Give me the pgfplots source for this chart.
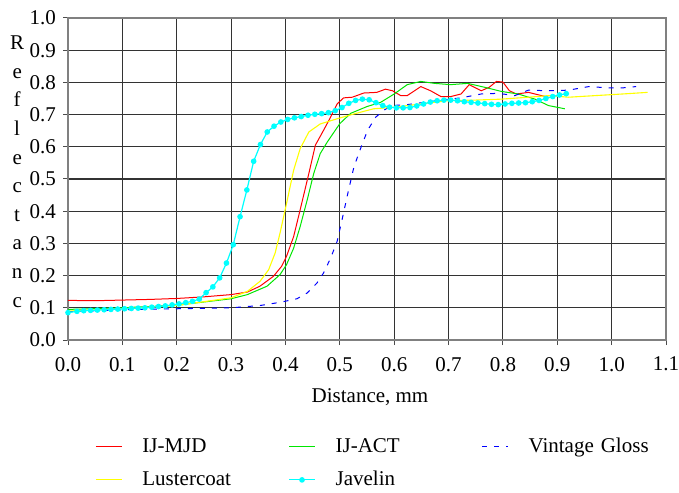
\documentclass[border=0pt]{standalone}
\usepackage{fontspec}
\setmainfont{LiberationSerif}[Extension=.ttf, UprightFont=*-Regular, BoldFont=*-Bold, ItalicFont=*-Italic, BoldItalicFont=*-BoldItalic]
\usepackage{pgfplots}
\pgfplotsset{compat=1.18}
\definecolor{cMJD}{RGB}{255,0,0}
\definecolor{cACT}{RGB}{0,230,0}
\definecolor{cVG}{RGB}{0,0,255}
\definecolor{cLC}{RGB}{255,255,0}
\definecolor{cJV}{RGB}{0,255,255}
\begin{document}
\begin{tikzpicture}
\begin{axis}[
  at={(0,0)}, anchor=south west,
  scale only axis, width=299pt, height=161pt,
  xmin=0, xmax=1.1, ymin=0, ymax=1.0,
  clip=false,
  xtick={0,0.1,...,1.1}, ytick={0,0.1,...,1.0},
  /pgf/number format/assume math mode=true,
  ticklabel style={font=\fontsize{10.5}{12}\selectfont},
  xticklabel style={/tikz/yshift=-2.5pt, /pgf/number format/.cd, fixed, fixed zerofill, precision=1},
  yticklabel style={/pgf/number format/.cd, fixed, fixed zerofill, precision=1},
  tick align=outside, major tick length=2.5pt,
  tick style={black!70, line width=0.5pt},
  xtick pos=bottom, ytick pos=left,
  grid=major,
  grid style={black!80, line width=0.55pt},
  axis line style={gray, line width=0.7pt},
  xlabel={Distance, mm},
  xlabel style={font=\fontsize{10.5}{12}\selectfont, at={(axis description cs:0.505,-0.177)}, anchor=center},
  legend columns=3,
  legend cell align=left,
  legend style={draw=none, fill=none, at={(axis description cs:0.045,-0.295)}, anchor=north west,
    font=\fontsize{10.5}{12}\selectfont, inner sep=0pt, row sep=5pt,
    nodes={inner sep=1pt, text height=7.5pt, text depth=2pt},
    /tikz/every odd column/.append style={column sep=9pt},
    /tikz/every even column/.append style={column sep=0pt, text width=72pt},
    legend image code/.code={\draw[mark repeat=2,mark phase=2,#1] plot coordinates {(0pt,0pt) (6.5pt,0pt) (13pt,0pt)};}},
]
% IJ-MJD
\addplot[cMJD, line width=0.5pt] coordinates {
(0,0.123) (0.05,0.122) (0.1,0.124) (0.15,0.126) (0.2,0.129) (0.25,0.134) (0.3,0.141)
(0.33,0.149) (0.353,0.167) (0.378,0.198) (0.393,0.229) (0.402,0.26) (0.415,0.321)
(0.427,0.404) (0.443,0.517) (0.455,0.605) (0.47,0.651) (0.483,0.692) (0.495,0.733)
(0.507,0.752) (0.523,0.754) (0.544,0.767) (0.568,0.769) (0.584,0.779) (0.597,0.774)
(0.612,0.759) (0.624,0.759) (0.649,0.787) (0.667,0.774) (0.686,0.756) (0.704,0.756)
(0.723,0.764) (0.738,0.793) (0.76,0.774) (0.775,0.785) (0.788,0.803) (0.8,0.801)
(0.812,0.774) (0.825,0.764) (0.847,0.769) (0.871,0.759) (0.884,0.754)
};
\addlegendentry{IJ-MJD}
% IJ-ACT
\addplot[cACT, line width=0.5pt] coordinates {
(0,0.095) (0.1,0.1) (0.2,0.108) (0.3,0.128) (0.33,0.141) (0.366,0.167) (0.39,0.203)
(0.402,0.234) (0.415,0.285) (0.427,0.352) (0.44,0.435) (0.452,0.517) (0.464,0.579)
(0.477,0.615) (0.5,0.672) (0.52,0.704) (0.55,0.725) (0.575,0.738) (0.6,0.764)
(0.624,0.793) (0.649,0.803) (0.674,0.797) (0.704,0.793) (0.735,0.797) (0.766,0.785)
(0.797,0.772) (0.828,0.764) (0.859,0.748) (0.884,0.728) (0.914,0.718)
};
\addlegendentry{IJ-ACT}
% Vintage Gloss
\addplot[cVG, line width=0.5pt, dash pattern=on 2.5pt off 3.5pt] coordinates {
(0,0.088) (0.1,0.094) (0.2,0.097) (0.3,0.1) (0.353,0.107) (0.39,0.117) (0.421,0.128)
(0.44,0.146) (0.458,0.177) (0.47,0.208) (0.483,0.254) (0.495,0.306) (0.504,0.373)
(0.514,0.45) (0.526,0.538) (0.538,0.594) (0.551,0.651) (0.566,0.692) (0.58,0.712)
(0.594,0.728) (0.624,0.731) (0.655,0.738) (0.686,0.745) (0.723,0.752) (0.76,0.764)
(0.791,0.766) (0.822,0.759) (0.847,0.776) (0.884,0.774) (0.921,0.776) (0.958,0.787)
(0.995,0.783) (1.02,0.783) (1.045,0.787)
};
\addlegendentry{Vintage Gloss}
% Lustercoat
\addplot[cLC, line width=0.55pt] coordinates {
(0,0.09) (0.1,0.097) (0.2,0.107) (0.3,0.131) (0.33,0.151) (0.353,0.182) (0.369,0.218)
(0.381,0.27) (0.39,0.332) (0.402,0.424) (0.415,0.527) (0.427,0.594) (0.443,0.646)
(0.464,0.671) (0.495,0.687) (0.526,0.702) (0.562,0.718) (0.6,0.723) (0.649,0.733)
(0.698,0.743) (0.748,0.745) (0.797,0.748) (0.847,0.754) (0.884,0.759) (0.921,0.754)
(0.97,0.759) (1.02,0.764) (1.066,0.769)
};
\addlegendentry{Lustercoat}
% Javelin
\addplot[cJV, line width=0.6pt, mark=*, mark size=1.1pt] coordinates {
(0,0.085) (0.0165,0.089) (0.029,0.091) (0.0415,0.092) (0.054,0.093) (0.0665,0.094)
(0.079,0.095) (0.0915,0.096) (0.104,0.097) (0.1165,0.098) (0.129,0.099) (0.1415,0.100)
(0.154,0.102) (0.1665,0.104) (0.179,0.106) (0.1915,0.109) (0.204,0.112) (0.2165,0.116)
(0.229,0.120) (0.2415,0.127) (0.254,0.147) (0.2665,0.165) (0.279,0.193) (0.2915,0.239)
(0.304,0.296) (0.3165,0.383) (0.329,0.466) (0.3415,0.555) (0.354,0.607) (0.3665,0.646)
(0.379,0.664) (0.3915,0.677) (0.404,0.685) (0.4165,0.690) (0.429,0.694) (0.4415,0.698)
(0.454,0.701) (0.4665,0.703) (0.479,0.706) (0.4915,0.712) (0.504,0.722) (0.5165,0.735)
(0.529,0.744) (0.5415,0.748) (0.554,0.746) (0.5665,0.737) (0.579,0.728) (0.5915,0.723)
(0.604,0.721) (0.6165,0.721) (0.629,0.722) (0.6415,0.727) (0.654,0.733) (0.6665,0.739)
(0.679,0.743) (0.6915,0.745) (0.704,0.745) (0.7165,0.743) (0.729,0.740) (0.7415,0.738)
(0.754,0.736) (0.7665,0.734) (0.779,0.732) (0.7915,0.731) (0.804,0.733) (0.8165,0.735)
(0.829,0.736) (0.8415,0.737) (0.854,0.740) (0.8665,0.744) (0.879,0.750) (0.8915,0.756)
(0.904,0.761) (0.9165,0.765)
};
\addlegendentry{Javelin}
\node[align=center, inner sep=0pt, font=\fontsize{10.5}{14.3}\selectfont] at (axis description cs:-0.085,0.523)
  {R\\e\\f\\l\\e\\c\\t\\a\\n\\c};
\end{axis}
\pgfresetboundingbox
\path[use as bounding box] (-34pt,-76pt) rectangle (305.5pt,170pt);
\end{tikzpicture}
\end{document}
